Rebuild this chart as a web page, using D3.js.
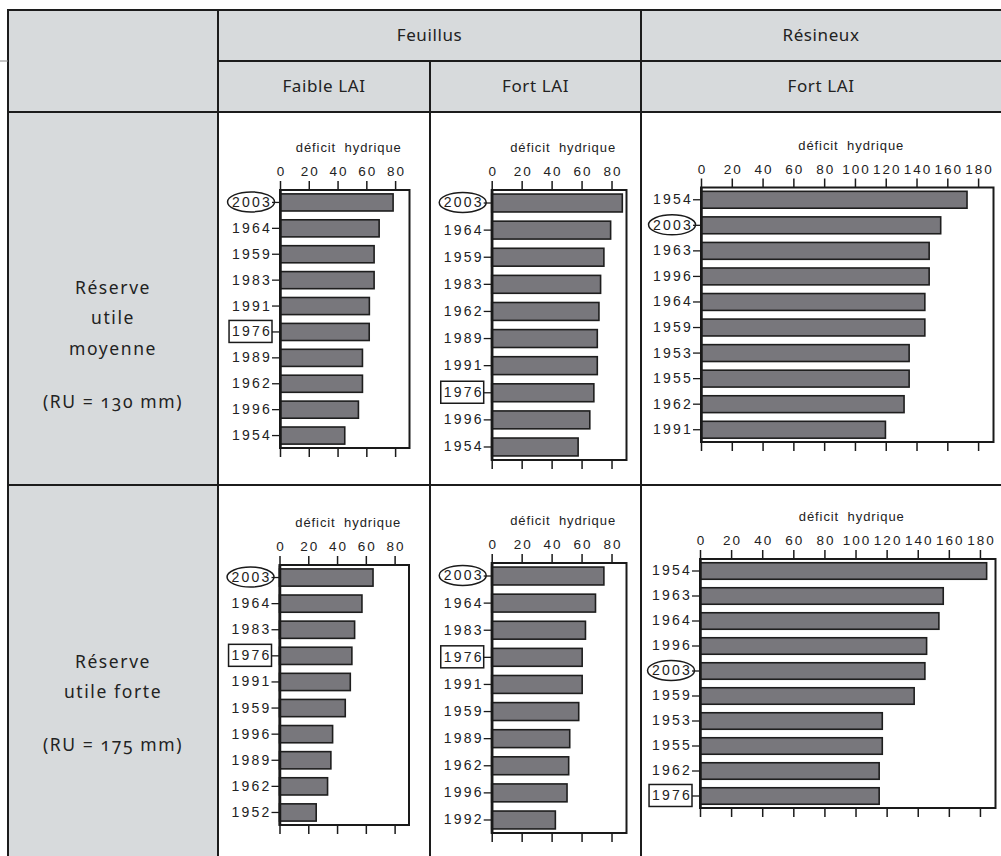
<!DOCTYPE html>
<html><head><meta charset="utf-8">
<script src="https://cdn.jsdelivr.net/npm/d3@7"></script>
<style>
body{margin:0;background:#fff;}
svg{display:block;}
</style></head><body>
<svg id="chart" width="1001" height="856"></svg>
<script>
// ---------------- data ----------------
const groupLabels = ["Feuillus", "Résineux"];
const subLabels = ["Faible LAI", "Fort LAI", "Fort LAI"];
const rowLabels = [["Réserve", "utile", "moyenne"], ["Réserve", "utile forte"]];
const ruLabels = ["(RU = 130 mm)", "(RU = 175 mm)"];
const axisTitle = "déficit hydrique";
const ticksFeuillus = [0, 20, 40, 60, 80];
const ticksResineux = [0, 20, 40, 60, 80, 100, 120, 140, 160, 180];
const circledYear = "2003";
const boxedYear = "1976";

// RU moyenne – Feuillus faible LAI
const yearsMoyFaible = ["2003","1964","1959","1983","1991","1976","1989","1962","1996","1954"];
const valuesMoyFaible = [78.6, 68.9, 65.4, 65.4, 62.1, 62.0, 57.3, 57.3, 54.5, 45.0];
// RU moyenne – Feuillus fort LAI
const yearsMoyFort = ["2003","1964","1959","1983","1962","1989","1991","1976","1996","1954"];
const valuesMoyFort = [87.2, 79.4, 74.9, 72.7, 71.6, 70.5, 70.5, 68.2, 65.5, 57.7];
// RU moyenne – Résineux fort LAI
const yearsMoyRes = ["1954","2003","1963","1996","1964","1959","1953","1955","1962","1991"];
const valuesMoyRes = [172.8, 155.7, 148.2, 148.2, 145.4, 145.4, 135.2, 135.2, 131.9, 119.8];
// RU forte – Feuillus faible LAI
const yearsForFaible = ["2003","1964","1983","1976","1991","1959","1996","1989","1962","1952"];
const valuesForFaible = [65.0, 57.3, 52.2, 50.3, 49.2, 45.7, 36.9, 35.7, 33.4, 25.5];
// RU forte – Feuillus fort LAI
const yearsForFort = ["2003","1964","1983","1976","1991","1959","1989","1962","1996","1992"];
const valuesForFort = [74.9, 69.3, 62.6, 60.4, 60.4, 58.1, 52.1, 51.4, 50.3, 42.5];
// RU forte – Résineux fort LAI
const yearsForRes = ["1954","1963","1964","1996","2003","1959","1953","1955","1962","1976"];
const valuesForRes = [184.3, 156.4, 153.6, 145.7, 144.6, 137.7, 117.2, 117.2, 115.2, 115.2];

// ---------------- layout ----------------
const W = 1001, H = 856;
const GRAY = "#d7dadc", LINE = "#1c1c1c", BAR = "#78777c";
const tbl = {left: 8, top: 10, col1: 218, col2: 430, col3: 641, h1: 61, h2: 112, r1: 485};

const panels = [
  {years: yearsMoyFaible, values: valuesMoyFaible, ticks: ticksFeuillus, max: 90,  x0: 280,   x1: 409.5, y0: 190,   y1: 448},
  {years: yearsMoyFort,   values: valuesMoyFort,   ticks: ticksFeuillus, max: 90,  x0: 491.7, x1: 626.5, y0: 190,   y1: 460},
  {years: yearsMoyRes,    values: valuesMoyRes,    ticks: ticksResineux, max: 190, x0: 701,   x1: 993.5, y0: 187.5, y1: 442},
  {years: yearsForFaible, values: valuesForFaible, ticks: ticksFeuillus, max: 90,  x0: 279.5, x1: 409,   y0: 565,   y1: 825},
  {years: yearsForFort,   values: valuesForFort,   ticks: ticksFeuillus, max: 90,  x0: 491.7, x1: 626.5, y0: 563,   y1: 833},
  {years: yearsForRes,    values: valuesForRes,    ticks: ticksResineux, max: 190, x0: 700,   x1: 995.5, y0: 559,   y1: 808}
];

const svg = d3.select("#chart");

// ---------------- table ----------------
svg.append("rect").attr("x", 0).attr("y", 0).attr("width", W).attr("height", H).attr("fill", "#fff");
svg.append("rect").attr("x", tbl.left).attr("y", tbl.top).attr("width", tbl.col1 - tbl.left).attr("height", H - tbl.top).attr("fill", GRAY);
svg.append("rect").attr("x", tbl.col1).attr("y", tbl.top).attr("width", W - tbl.col1).attr("height", tbl.h2 - tbl.top).attr("fill", GRAY);

const lines = [
  [tbl.left, tbl.top, W, tbl.top],
  [tbl.left, tbl.top, tbl.left, H],
  [tbl.col1, tbl.top, tbl.col1, H],
  [tbl.col3, tbl.top, tbl.col3, H],
  [tbl.col2, tbl.h1, tbl.col2, H],
  [tbl.col1, tbl.h1, W, tbl.h1],
  [tbl.left, tbl.h2, W, tbl.h2],
  [tbl.left, tbl.r1, W, tbl.r1]
];
svg.append("g").selectAll("line").data(lines).join("line")
  .attr("x1", d => d[0]).attr("y1", d => d[1]).attr("x2", d => d[2]).attr("y2", d => d[3])
  .attr("stroke", LINE).attr("stroke-width", 2).attr("stroke-linecap", "square");
svg.append("line").attr("x1", 0).attr("x2", tbl.left).attr("y1", tbl.h1).attr("y2", tbl.h1)
  .attr("stroke", "#888").attr("stroke-width", 1);

const hdrFont = "'Noto Sans', 'Open Sans', sans-serif";
const hdr = svg.append("g").attr("font-family", hdrFont).attr("font-size", 17).attr("fill", "#222")
  .attr("text-anchor", "middle").attr("letter-spacing", "0.6px");
hdr.append("text").attr("x", (tbl.col1 + tbl.col3) / 2).attr("y", 41).text(groupLabels[0]);
hdr.append("text").attr("x", (tbl.col3 + W) / 2).attr("y", 41).text(groupLabels[1]);
const subX = [(tbl.col1 + tbl.col2) / 2, (tbl.col2 + tbl.col3) / 2, (tbl.col3 + W) / 2];
subLabels.forEach((s, i) => hdr.append("text").attr("x", subX[i]).attr("y", 92).text(s));

// row labels
const rowY = [[294, 324, 355], [668, 698]];
const ruY = [408, 751];
const lab = svg.append("g").attr("font-family", hdrFont).attr("font-size", 17.5).attr("fill", "#222")
  .attr("text-anchor", "middle").attr("letter-spacing", "1.6px");
rowLabels.forEach((r, i) => {
  r.forEach((t, j) => lab.append("text").attr("x", (tbl.left + tbl.col1) / 2).attr("y", rowY[i][j]).text(t));
  lab.append("text").attr("x", (tbl.left + tbl.col1) / 2).attr("y", ruY[i])
    .style("font-variant-numeric", "oldstyle-nums").style("font-feature-settings", "'onum' 1")
    .text(ruLabels[i]);
});

// ---------------- panels ----------------
const chartFont = "'Liberation Sans', Arial, Helvetica, sans-serif";
panels.forEach(p => {
  const x = d3.scaleLinear().domain([0, p.max]).range([p.x0, p.x1]);
  const y = d3.scaleBand().domain(p.years).range([p.y0, p.y1]).paddingInner(0.34).paddingOuter(0.15);
  const g = svg.append("g").attr("font-family", chartFont);

  // title
  g.append("text").attr("x", (p.x0 + p.x1) / 2 + 4).attr("y", p.y0 - 38)
    .attr("text-anchor", "middle").attr("font-size", 13).attr("letter-spacing", "0.9px")
    .attr("word-spacing", "4px").attr("fill", "#222").text(axisTitle);

  // bars
  g.append("g").selectAll("rect").data(p.years).join("rect")
    .attr("x", x(0)).attr("y", d => y(d))
    .attr("width", (d, i) => x(p.values[i]) - x(0)).attr("height", y.bandwidth())
    .attr("fill", BAR).attr("stroke", "#1e1e1e").attr("stroke-width", 1.6);

  // frame
  g.append("rect").attr("x", p.x0).attr("y", p.y0).attr("width", p.x1 - p.x0).attr("height", p.y1 - p.y0)
    .attr("fill", "none").attr("stroke", "#1a1a1a").attr("stroke-width", 2);

  // top axis
  const top = g.append("g").attr("transform", `translate(0,${p.y0})`)
    .call(d3.axisTop(x).tickValues(p.ticks).tickSize(9).tickPadding(5).tickSizeOuter(0).tickFormat(d3.format("d")));
  top.select(".domain").remove();
  top.selectAll("line").attr("stroke", "#1a1a1a").attr("stroke-width", 1.5);
  top.selectAll("text").attr("font-size", 13.5).attr("letter-spacing", "2px").attr("dx", "1px").attr("fill", "#222")
    .attr("font-family", chartFont);

  // bottom axis
  const bot = g.append("g").attr("transform", `translate(0,${p.y1})`)
    .call(d3.axisBottom(x).tickValues(p.ticks).tickSize(9).tickSizeOuter(0).tickFormat(""));
  bot.select(".domain").remove();
  bot.selectAll("line").attr("stroke", "#1a1a1a").attr("stroke-width", 1.5);

  // left axis
  const left = g.append("g").attr("transform", `translate(${p.x0},0)`)
    .call(d3.axisLeft(y).tickSize(8).tickPadding(0).tickSizeOuter(0));
  left.select(".domain").attr("stroke", "#1a1a1a").attr("stroke-width", 2.5);
  left.selectAll("line").attr("stroke", "#1a1a1a").attr("stroke-width", 1.3);
  left.selectAll("text").attr("font-size", 14).attr("letter-spacing", "2.2px").attr("fill", "#222")
    .attr("font-family", chartFont);

  // annotations
  left.selectAll(".tick").each(function(d) {
    const t = d3.select(this);
    const bb = t.select("text").node().getBBox();
    if (d === circledYear) {
      t.append("ellipse").attr("cx", bb.x + bb.width / 2 - 1).attr("cy", bb.y + bb.height / 2)
        .attr("rx", bb.width / 2 + 3.5).attr("ry", bb.height / 2 + 2)
        .attr("fill", "none").attr("stroke", "#1a1a1a").attr("stroke-width", 1.5);
    }
    if (d === boxedYear) {
      t.append("rect").attr("x", bb.x - 3).attr("y", bb.y - 3).attr("width", bb.width + 3).attr("height", bb.height + 6)
        .attr("fill", "none").attr("stroke", "#1a1a1a").attr("stroke-width", 1.5);
    }
  });
});
</script>
</body></html>
